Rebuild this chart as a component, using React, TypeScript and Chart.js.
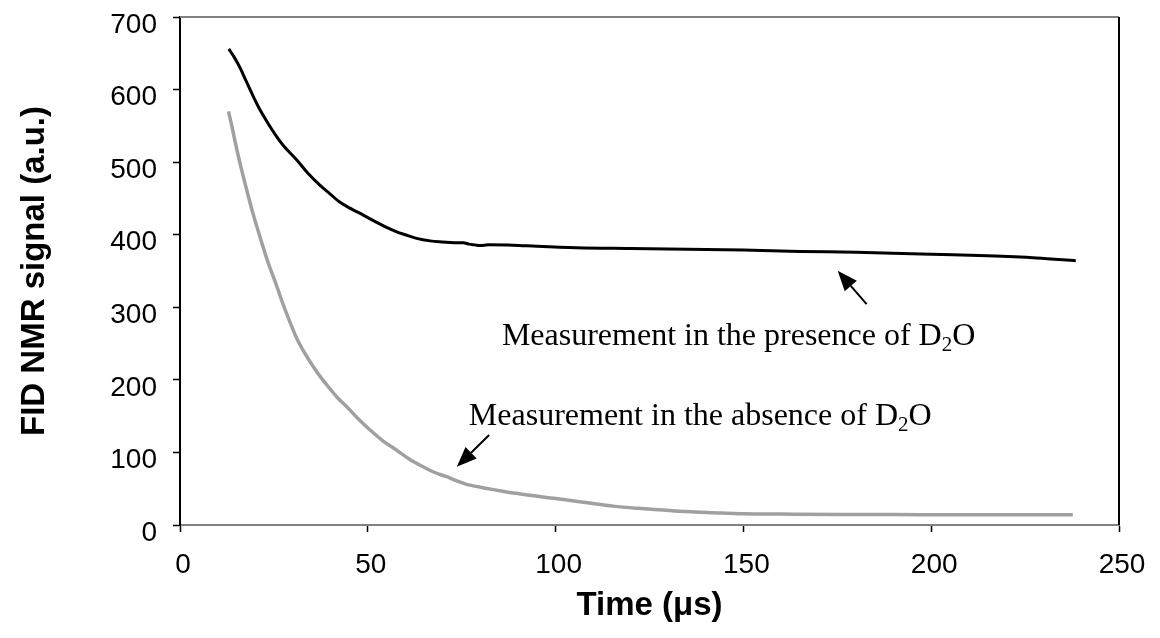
import React, { useEffect, useRef } from "react";
import { Chart, registerables } from "chart.js";

Chart.register(...registerables);

// Measurement in the presence of D2O (black)
const presenceTime = [
  13.0, 14.5, 16.0, 17.5, 19.1, 21.0, 23.5, 25.5, 27.5, 31.1, 34.0, 37.3, 40.0, 42.5, 45.5, 48.8,
  52.0, 55.0, 57.7, 60.0, 63.0, 66.6, 70.0, 73.0, 75.4, 77.0, 78.5, 80.0, 82.0, 88.7, 95.0, 105.6,
  120.0, 135.0, 150.0, 165.0, 180.0, 200.0, 215.0, 228.0, 238.5,
];
const presenceSignal = [
  656, 644, 630, 613, 595, 575, 553, 537, 523, 503, 485, 468, 456, 445, 436, 427,
  418, 410, 404, 400, 395, 391.5, 390, 389, 389, 387, 386, 385, 386, 385.6, 384, 382,
  381, 380, 379, 377, 376, 373, 371, 368, 364,
];

// Measurement in the absence of D2O (grey)
const absenceTime = [
  12.9, 13.8, 14.6, 16.0, 17.8, 19.5, 21.3, 23.5, 25.7, 27.1, 29.7, 31.1, 33.3, 35.5, 37.7, 39.9,
  42.0, 44.4, 47.5, 50.6, 54.0, 57.7, 61.0, 64.8, 68.0, 71.0, 73.5, 76.3, 80.0, 84.3, 88.7, 93.2,
  97.5, 102.1, 108.0, 115.4, 122.0, 128.7, 135.0, 142.0, 150.0, 160.0, 175.0, 190.0, 205.0, 220.0, 237.7,
];
const absenceSignal = [
  570, 550, 530, 498, 461, 428, 397, 361, 330, 309, 274, 257, 236, 218, 202, 188,
  175, 163, 146, 131, 116, 103, 91, 80, 72, 66.5, 61, 56, 52, 48, 44, 41,
  38, 35, 31, 26, 23, 20.6, 18.5, 17, 15.5, 15, 14.5, 14.5, 14, 14, 14,
];

const xTickValues = [0, 50, 100, 150, 200, 250];
const yTickValues = [0, 100, 200, 300, 400, 500, 600, 700];

const xTitle = "Time (\u03bcs)";
const yTitle = "FID NMR signal (a.u.)";

// annotation labels: anchor (left, baseline) in data units
const labelTexts = ["Measurement in the presence of D", "Measurement in the absence of D"];
const labelSubs = ["2", "2"];
const labelTails = ["O", "O"];
const labelTime = [85.7, 76.9];
const labelSignal = [247.9, 137.7];

// arrows: from (tail) -> to (tip), data units
const arrowFromTime = [182.8, 82.3];
const arrowFromSignal = [304.3, 123.9];
const arrowToTime = [175.1, 73.7];
const arrowToSignal = [350.2, 80.3];

const SERIF = "'Liberation Serif', 'Times New Roman', serif";
const SANS = "'Liberation Sans', Arial, sans-serif";

const overlayPlugin = {
  id: "overlay",
  afterDraw(chart: any) {
    const ctx = chart.ctx as CanvasRenderingContext2D;
    const xs = chart.scales.x;
    const ys = chart.scales.y;
    const area = chart.chartArea;
    ctx.save();
    // top and right frame
    ctx.lineWidth = 2;
    ctx.strokeStyle = "#808080";
    ctx.beginPath();
    ctx.moveTo(area.left, area.top);
    ctx.lineTo(area.right, area.top);
    ctx.stroke();
    ctx.strokeStyle = "#000";
    ctx.beginPath();
    ctx.moveTo(area.right, area.top);
    ctx.lineTo(area.right, area.bottom);
    ctx.stroke();

    // labels
    ctx.fillStyle = "#000";
    ctx.textBaseline = "alphabetic";
    ctx.textAlign = "left";
    for (let i = 0; i < labelTexts.length; i++) {
      let x = xs.getPixelForValue(labelTime[i]);
      const y = ys.getPixelForValue(labelSignal[i]);
      ctx.font = `32px ${SERIF}`;
      ctx.fillText(labelTexts[i], x, y);
      x += ctx.measureText(labelTexts[i]).width;
      ctx.font = `21px ${SERIF}`;
      ctx.fillText(labelSubs[i], x, y + 6);
      x += ctx.measureText(labelSubs[i]).width;
      ctx.font = `32px ${SERIF}`;
      ctx.fillText(labelTails[i], x, y);
    }

    // arrows
    for (let i = 0; i < arrowFromTime.length; i++) {
      const x0 = xs.getPixelForValue(arrowFromTime[i]);
      const y0 = ys.getPixelForValue(arrowFromSignal[i]);
      const x1 = xs.getPixelForValue(arrowToTime[i]);
      const y1 = ys.getPixelForValue(arrowToSignal[i]);
      const ang = Math.atan2(y1 - y0, x1 - x0);
      const headLen = 20;
      const headHalf = 8;
      const bx = x1 - headLen * Math.cos(ang);
      const by = y1 - headLen * Math.sin(ang);
      ctx.strokeStyle = "#000";
      ctx.lineWidth = 2;
      ctx.beginPath();
      ctx.moveTo(x0, y0);
      ctx.lineTo(bx, by);
      ctx.stroke();
      ctx.beginPath();
      ctx.moveTo(x1, y1);
      ctx.lineTo(bx + headHalf * Math.sin(ang), by - headHalf * Math.cos(ang));
      ctx.lineTo(bx - headHalf * Math.sin(ang), by + headHalf * Math.cos(ang));
      ctx.closePath();
      ctx.fill();
    }
    ctx.restore();
  },
};

export default function App() {
  const canvasRef = useRef<HTMLCanvasElement | null>(null);

  useEffect(() => {
    const canvas = canvasRef.current;
    if (!canvas) return;
    const presence = presenceTime.map((t, i) => ({ x: t, y: presenceSignal[i] }));
    const absence = absenceTime.map((t, i) => ({ x: t, y: absenceSignal[i] }));
    const chart = new Chart(canvas, {
      type: "scatter",
      data: {
        datasets: [
          {
            label: "presence",
            data: presence,
            showLine: true,
            borderColor: "#000000",
            borderWidth: 3,
            pointRadius: 0,
            cubicInterpolationMode: "monotone",
          },
          {
            label: "absence",
            data: absence,
            showLine: true,
            borderColor: "#a0a0a0",
            borderWidth: 3.5,
            pointRadius: 0,
            cubicInterpolationMode: "monotone",
          },
        ],
      },
      options: {
        animation: false,
        responsive: true,
        maintainAspectRatio: false,
        layout: { padding: { top: 17, right: 41, left: 0, bottom: 0 } },
        plugins: {
          legend: { display: false },
          tooltip: { enabled: false },
        },
        scales: {
          x: {
            type: "linear",
            min: 0,
            max: 250,
            afterFit: (s: any) => {
              s.height = 113;
              s.paddingLeft = 0;
              s.paddingRight = 0;
            },
            afterBuildTicks: (s: any) => {
              s.ticks = xTickValues.map((v) => ({ value: v }));
            },
            ticks: {
              color: "#000",
              font: { family: SANS, size: 28 },
              padding: 16,
              maxRotation: 0,
              labelOffset: 3,
            },
            grid: {
              drawOnChartArea: false,
              drawTicks: true,
              tickLength: 7,
              color: "#000",
              tickWidth: 1.5,
            },
            border: { color: "#808080", width: 2 },
            title: {
              display: true,
              text: xTitle,
              color: "#000",
              font: { family: SANS, size: 33, weight: "bold" },
              padding: { top: 0, bottom: 12 },
            },
          },
          y: {
            type: "linear",
            min: 0,
            max: 700,
            afterFit: (s: any) => {
              s.width = 180;
              s.paddingTop = 0;
              s.paddingBottom = 0;
            },
            afterBuildTicks: (s: any) => {
              s.ticks = yTickValues.map((v) => ({ value: v }));
            },
            ticks: {
              color: "#000",
              font: { family: SANS, size: 28 },
              padding: 16,
              labelOffset: 8,
            },
            grid: {
              drawOnChartArea: false,
              drawTicks: true,
              tickLength: 7,
              color: "#000",
              tickWidth: 1.5,
            },
            border: { color: "#000", width: 2 },
            title: {
              display: true,
              text: yTitle,
              color: "#000",
              font: { family: SANS, size: 33, weight: "bold" },
              padding: { top: 15, bottom: 15 },
            },
          },
        },
      },
      plugins: [overlayPlugin],
    });
    return () => chart.destroy();
  }, []);

  return (
    <div style={{ position: "fixed", left: 0, top: 0, width: 1160, height: 638, background: "#fff" }}>
      <canvas ref={canvasRef} />
    </div>
  );
}
